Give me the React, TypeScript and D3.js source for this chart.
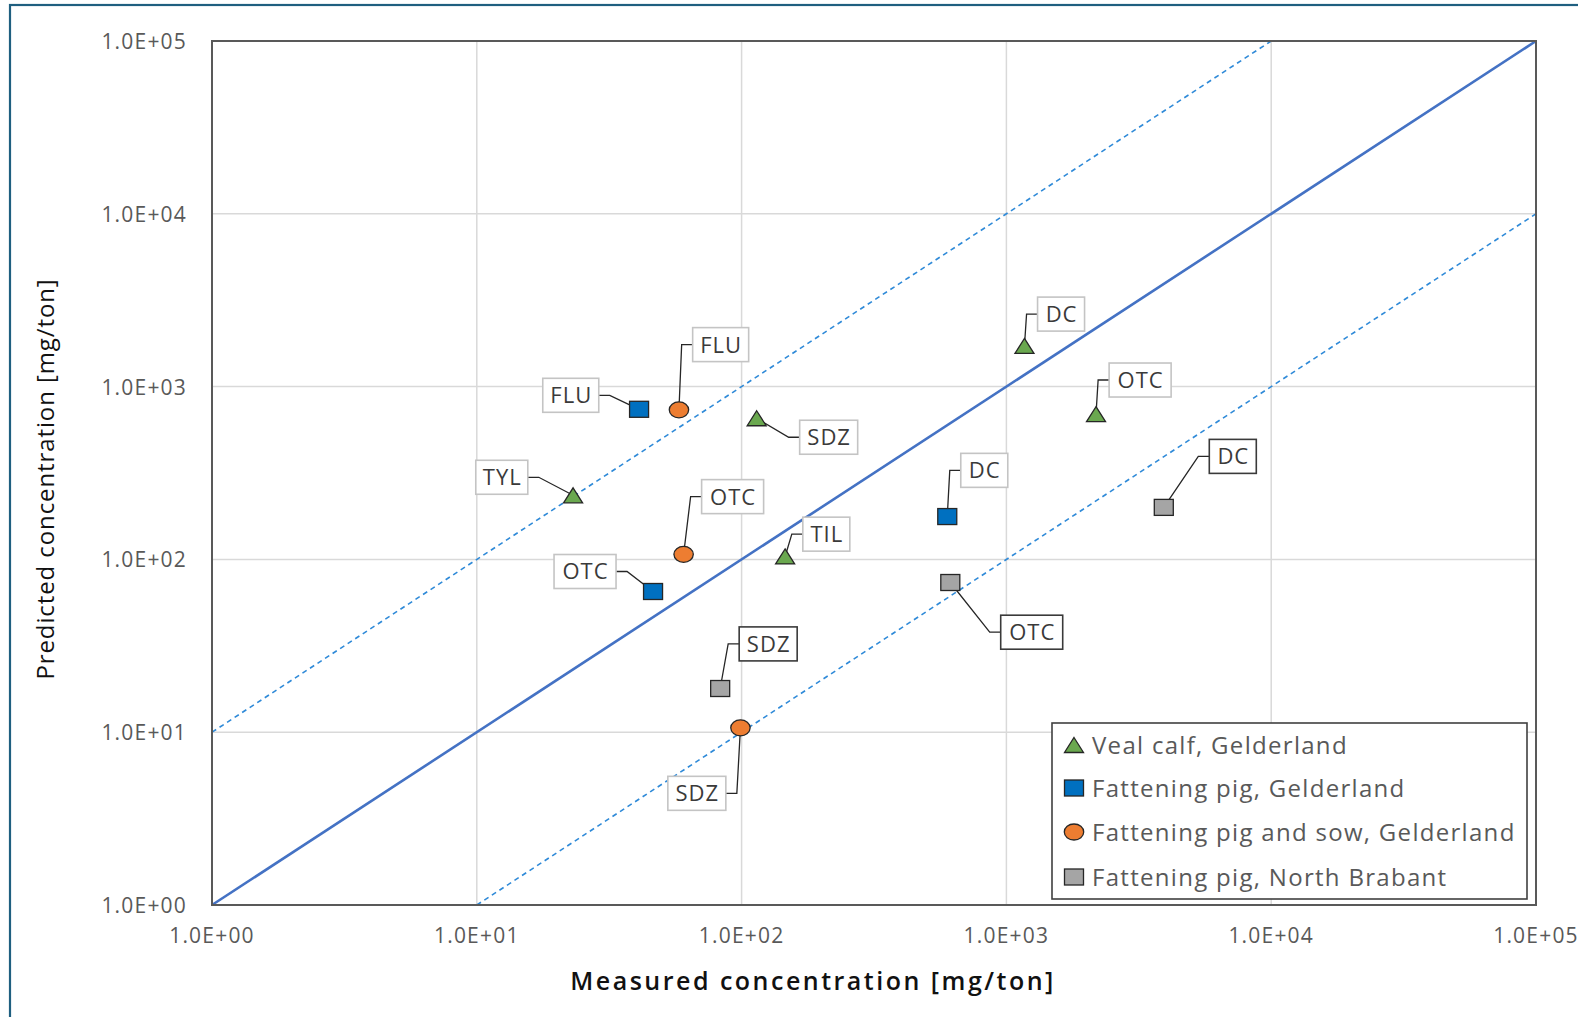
import React from "react";
import * as d3 from "d3";

// ---------- data ----------
const tickValues = [1, 10, 100, 1000, 10000, 100000];
const tickLabels = ["1.0E+00", "1.0E+01", "1.0E+02", "1.0E+03", "1.0E+04", "1.0E+05"];

const seriesNames = [
  "Veal calf, Gelderland",
  "Fattening pig, Gelderland",
  "Fattening pig and sow, Gelderland",
  "Fattening pig, North Brabant",
];

const vealX = [23.1, 114, 146, 1170, 2180];
const vealY = [235, 656, 104, 1720, 693];
const vealLabels = ["TYL", "SDZ", "TIL", "DC", "OTC"];

const pigGX = [41, 46.3, 598];
const pigGY = [739, 65.2, 177];
const pigGLabels = ["FLU", "OTC", "DC"];

const sowX = [58, 60.4, 99];
const sowY = [734, 107, 10.6];
const sowLabels = ["FLU", "OTC", "SDZ"];

const pigNBX = [83, 614, 3930];
const pigNBY = [17.9, 73.5, 200];
const pigNBLabels = ["SDZ", "OTC", "DC"];

// reference lines: y = x, y = 10x, y = x/10
const refFactors = [1, 10, 0.1];

// ---------- layout (pixel offsets of label boxes relative to their points) ----------
const vealLabelPos = [
  [-97.3, -35, "right"],
  [43, 2, "left"],
  [17.7, -39.3, "left"],
  [13.1, -48.8, "left"],
  [13.1, -51.1, "left"],
];
const pigGLabelPos = [
  [-96.3, -31, "right"],
  [-99, -37, "right"],
  [13.5, -63.2, "left"],
];
const sowLabelPos = [
  [13.7, -82.2, "left"],
  [18, -74.7, "left"],
  [-72.6, 48.5, "right"],
];
const pigNBLabelPos = [
  [19, -61.6, "left"],
  [50.4, 32.7, "left"],
  [45.5, -68, "left"],
];

const boxWidths: Record<string, number> = { TYL: 52, SDZ: 58, TIL: 47, DC: 47, OTC: 62, FLU: 56 };

const FONT = "'Open Sans', 'Noto Sans', sans-serif";

type Shape = "triangle" | "square" | "circle";

const seriesDefs = [
  { xs: vealX, ys: vealY, labels: vealLabels, pos: vealLabelPos, shape: "triangle" as Shape, fill: "#6aa84f", box: "#c4c4c4" },
  { xs: pigGX, ys: pigGY, labels: pigGLabels, pos: pigGLabelPos, shape: "square" as Shape, fill: "#0070c0", box: "#c4c4c4" },
  { xs: sowX, ys: sowY, labels: sowLabels, pos: sowLabelPos, shape: "circle" as Shape, fill: "#ed7d31", box: "#c4c4c4" },
  { xs: pigNBX, ys: pigNBY, labels: pigNBLabels, pos: pigNBLabelPos, shape: "square" as Shape, fill: "#a5a5a5", box: "#3a3a3a" },
];

function Marker({ shape, cx, cy, fill }: { shape: Shape; cx: number; cy: number; fill: string }) {
  const stroke = "#262626";
  if (shape === "triangle") {
    const p = d3.path();
    p.moveTo(cx, cy - 7.5);
    p.lineTo(cx + 9.5, cy + 7.5);
    p.lineTo(cx - 9.5, cy + 7.5);
    p.closePath();
    return <path d={p.toString()} fill={fill} stroke={stroke} strokeWidth={1.3} />;
  }
  if (shape === "square") {
    return <rect x={cx - 9.5} y={cy - 8} width={19} height={16} fill={fill} stroke={stroke} strokeWidth={1.3} />;
  }
  return <ellipse cx={cx} cy={cy} rx={9.7} ry={8} fill={fill} stroke={stroke} strokeWidth={1.3} />;
}

export default function App() {
  const W = 1578;
  const H = 1017;
  const left = 212, right = 1536, top = 41, bottom = 905;
  const x = d3.scaleLog().domain([1, 1e5]).range([left, right]);
  const y = d3.scaleLog().domain([1, 1e5]).range([bottom, top]);

  const refLine = (f: number) => {
    const x0 = Math.max(1, 1 / f);
    const x1 = Math.min(1e5, 1e5 / f);
    return d3.line<number>().x((v) => x(v)).y((v) => y(v * f))([x0, x1]) || "";
  };

  const legendTop = 723;
  const legendRowY = [745, 788, 832, 877];

  return (
    <div style={{ position: "absolute", left: 0, top: 0 }}>
      <svg width={W} height={H} style={{ display: "block", background: "#fff" }} fontFamily={FONT}>
        <rect x={10} y={5} width={1700} height={1200} fill="none" stroke="#1f5f80" strokeWidth={2.2} />

        {/* grid */}
        {tickValues.slice(1, -1).map((v) => (
          <line key={"gx" + v} x1={x(v)} x2={x(v)} y1={top} y2={bottom} stroke="#d9d9d9" strokeWidth={1.5} />
        ))}
        {tickValues.slice(1, -1).map((v) => (
          <line key={"gy" + v} x1={left} x2={right} y1={y(v)} y2={y(v)} stroke="#d9d9d9" strokeWidth={1.5} />
        ))}

        {/* reference lines */}
        <path d={refLine(refFactors[1])} stroke="#2f8ad8" strokeWidth={1.6} strokeDasharray="5,4" fill="none" />
        <path d={refLine(refFactors[2])} stroke="#2f8ad8" strokeWidth={1.6} strokeDasharray="5,4" fill="none" />
        <path d={refLine(refFactors[0])} stroke="#4472c4" strokeWidth={2.6} fill="none" />

        {/* plot border */}
        <rect x={left} y={top} width={right - left} height={bottom - top} fill="none" stroke="#595959" strokeWidth={2} />

        {/* y ticks */}
        {tickValues.map((v, i) => (
          <text key={"ty" + v} x={left - 25} y={y(v) + 8} textAnchor="end" fontSize={21} letterSpacing={1.2} fill="#595959">
            {tickLabels[i]}
          </text>
        ))}
        {/* x ticks */}
        {tickValues.map((v, i) => (
          <text key={"tx" + v} x={x(v)} y={943} textAnchor="middle" fontSize={21} letterSpacing={1.2} fill="#595959">
            {tickLabels[i]}
          </text>
        ))}

        {/* axis titles */}
        <text x={813} y={990} textAnchor="middle" fontSize={25} fontWeight={600} fill="#111" letterSpacing={2.5}>
          Measured concentration [mg/ton]
        </text>
        <text transform="translate(53.5,479) rotate(-90)" textAnchor="middle" fontSize={24} fill="#111" letterSpacing={0.9}>
          Predicted concentration [mg/ton]
        </text>

        {/* labels + connectors */}
        {seriesDefs.map((s, si) =>
          s.xs.map((xv, i) => {
            const px = x(xv);
            const py = y(s.ys[i]);
            const [dx, dy, side] = s.pos[i] as [number, number, string];
            const bw = boxWidths[s.labels[i]];
            const bh = 34;
            const bx = px + dx;
            const by = py + dy;
            const ay = by + bh / 2;
            const ax = side === "left" ? bx : bx + bw;
            const ex = side === "left" ? ax - 11 : ax + 11;
            const path = d3.line()([[ax, ay], [ex, ay], [px, py]]) || "";
            return (
              <g key={`lab${si}-${i}`}>
                <path d={path} fill="none" stroke="#262626" strokeWidth={1.3} />
                <rect x={bx} y={by} width={bw} height={bh} fill="#fff" stroke={s.box} strokeWidth={1.6} />
                <text x={bx + bw / 2 + 0.5} y={ay + 8} textAnchor="middle" fontSize={22} letterSpacing={1} fill="#3a3a3a">
                  {s.labels[i]}
                </text>
              </g>
            );
          })
        )}

        {/* markers */}
        {seriesDefs.map((s, si) =>
          s.xs.map((xv, i) => (
            <Marker key={`m${si}-${i}`} shape={s.shape} cx={x(xv)} cy={y(s.ys[i])} fill={s.fill} />
          ))
        )}

        {/* legend */}
        <rect x={1052} y={legendTop} width={475} height={176} fill="#fff" stroke="#404040" strokeWidth={1.6} />
        {seriesDefs.map((s, si) => (
          <g key={"leg" + si}>
            <Marker shape={s.shape} cx={1074} cy={legendRowY[si]} fill={s.fill} />
            <text x={1092} y={legendRowY[si] + 8.5} fontSize={24} letterSpacing={1.3} fill="#595959">
              {seriesNames[si]}
            </text>
          </g>
        ))}
      </svg>
    </div>
  );
}
